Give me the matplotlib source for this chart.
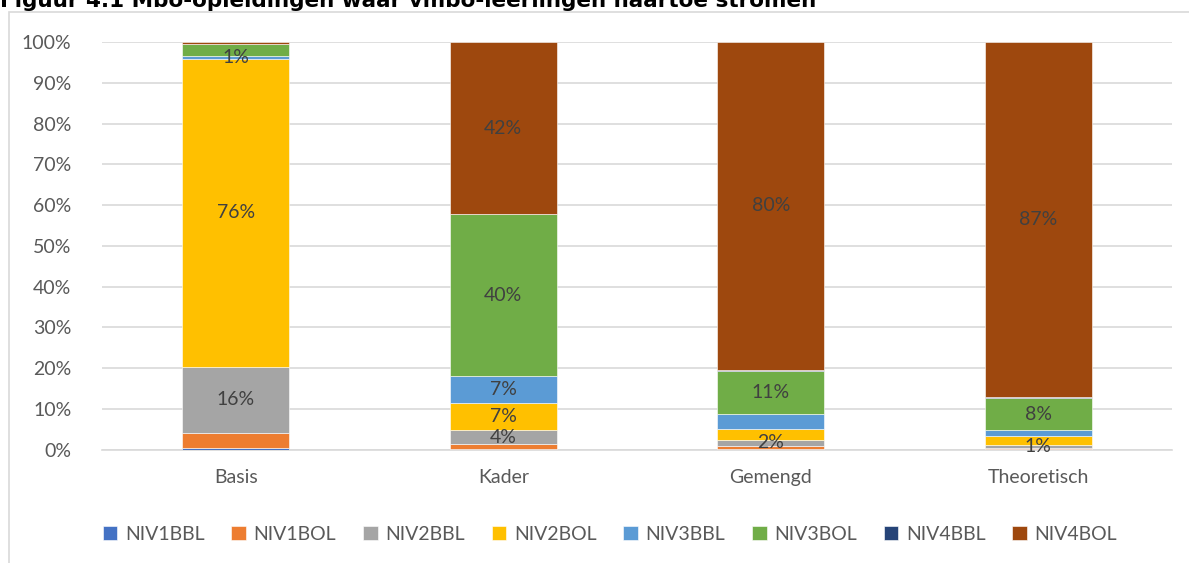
import matplotlib
matplotlib.use("Agg")
import matplotlib.pyplot as plt
import numpy as np
from matplotlib.patches import Rectangle

categories = ["Basis", "Kader", "Gemengd", "Theoretisch"]
series_names = ["NIV1BBL", "NIV1BOL", "NIV2BBL", "NIV2BOL", "NIV3BBL", "NIV3BOL", "NIV4BBL", "NIV4BOL"]

NIV1BBL = [0.5, 0.1, 0.1, 0.1]
NIV1BOL = [3.6, 1.2, 0.8, 0.4]
NIV2BBL = [16.2, 3.6, 1.6, 0.7]
NIV2BOL = [75.6, 6.6, 2.6, 2.2]
NIV3BBL = [0.6, 6.6, 3.6, 1.5]
NIV3BOL = [2.9, 39.6, 10.6, 7.7]
NIV4BBL = [0.1, 0.1, 0.3, 0.4]
NIV4BOL = [0.5, 42.2, 80.4, 87.0]

# which segments carry a data label (as in the reference)
show_label = {
    "NIV2BBL": [True, True, True, True],
    "NIV2BOL": [True, True, False, False],
    "NIV3BBL": [True, True, False, False],
    "NIV3BOL": [False, True, True, True],
    "NIV4BOL": [False, True, True, True],
}

colors = ["#4472C4", "#ED7D31", "#A5A5A5", "#FFC000", "#5B9BD5", "#70AD47", "#264478", "#9E480E"]

data = [NIV1BBL, NIV1BOL, NIV2BBL, NIV2BOL, NIV3BBL, NIV3BOL, NIV4BBL, NIV4BOL]

W, H = 1189, 563
fig = plt.figure(figsize=(W / 100, H / 100), dpi=100)
plt.rcParams['font.family'] = ['Lato', 'DejaVu Sans']

# chart-area border
fig.patches.append(Rectangle((9 / W, -0.1), 1.2, 1.1 - 12 / H,
                             transform=fig.transFigure, fill=False,
                             edgecolor="#D9D9D9", linewidth=1.2))

fig.text(0, 1 - 7 / H, "Figuur 4.1 Mbo-opleidingen waar vmbo-leerlingen naartoe stromen",
         fontsize=15.5, fontweight="bold", family="DejaVu Sans", color="black",
         ha="left", va="baseline")

ax = fig.add_axes([102 / W, 1 - 449.7 / H, (1172 - 102) / W, (449.7 - 42) / H])
x = np.arange(len(categories))
bottom = np.zeros(len(categories))
for name, vals, c in zip(series_names, data, colors):
    vals = np.array(vals, dtype=float)
    ax.bar(x, vals, 0.4, bottom=bottom, color=c, edgecolor="white", linewidth=0.4,
           label=name, zorder=3)
    if name in show_label:
        for i, v in enumerate(vals):
            if show_label[name][i]:
                ax.text(x[i], bottom[i] + v / 2, f"{round(v):d}%", ha="center", va="center",
                        fontsize=14, color="#404040", zorder=4)
    bottom += vals

ax.set_xlim(-0.5, len(categories) - 0.5)
ax.set_ylim(0, 100)
ax.set_yticks(np.arange(0, 101, 10))
ax.set_yticklabels([f"{t}%" for t in range(0, 101, 10)])
ax.set_xticks(x)
ax.set_xticklabels(categories)
ax.tick_params(axis="both", length=0, labelsize=14, labelcolor="#595959")
ax.tick_params(axis="y", pad=22)
ax.tick_params(axis="x", pad=14)
ax.grid(axis="y", color="#D9D9D9", linewidth=1.2, zorder=0)
for s in ax.spines.values():
    s.set_visible(False)
ax.spines["bottom"].set_visible(True)
ax.spines["bottom"].set_color("#D9D9D9")
ax.spines["bottom"].set_linewidth(1.2)

fig.legend(loc="center", bbox_to_anchor=(610 / W, 1 - 534 / H), ncol=8, frameon=False,
           fontsize=14, labelcolor="#595959", handlelength=0.75, handleheight=0.75,
           handletextpad=0.4, columnspacing=1.37)

fig.savefig("out.png", dpi=100)
